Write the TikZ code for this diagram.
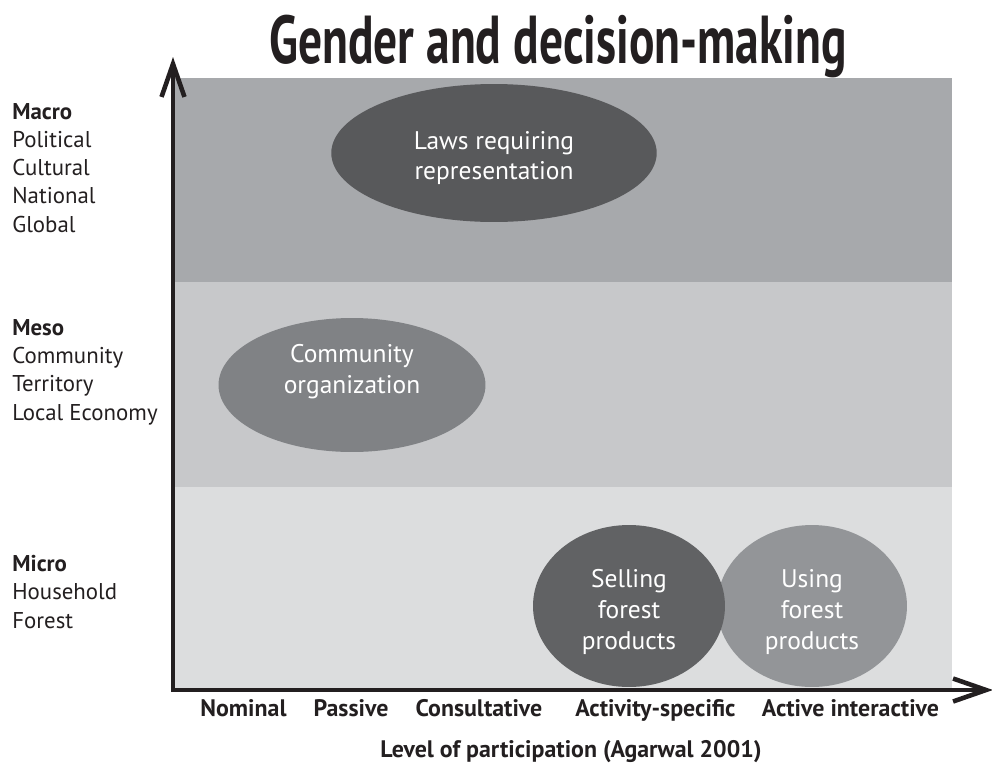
\documentclass[tikz,border=0pt]{standalone}
\usepackage{fontspec}
\setmainfont{PT Sans}
\newfontfamily\titlefont[FakeStretch=0.7]{PT Sans}
\usetikzlibrary{arrows.meta}
\usetikzlibrary{shapes.geometric}

\definecolor{ink}{HTML}{231F20}
\definecolor{macroband}{HTML}{A7A9AC}
\definecolor{mesoband}{HTML}{C7C8CA}
\definecolor{microband}{HTML}{DCDDDE}
\definecolor{lawsfill}{HTML}{58595B}
\definecolor{orgfill}{HTML}{808285}
\definecolor{sellfill}{HTML}{616264}
\definecolor{usefill}{HTML}{939598}

% invisible struts to move the text inside an ellipse up or down
\newcommand{\padtop}[1]{\rule{0pt}{#1}}
\newcommand{\padbot}[1]{\rule[-#1]{0pt}{0pt}}

\begin{document}
\begin{tikzpicture}[x=0.02cm, y=-0.02cm,
    blob/.style = {ellipse, inner sep=0pt, text=white, align=center,
                   font=\fontsize{14.5}{17.5}\selectfont},
    level/.style = {anchor=base west, align=left, inner sep=0pt, text=ink,
                    font=\fontsize{13}{16}\selectfont},
    stage/.style = {anchor=base, inner sep=0pt, text=ink,
                    font=\bfseries\fontsize{13.6}{15}\selectfont},
    axis/.style = {line width=2.6pt, draw=ink, line cap=rect,
                   -{Straight Barb[length=6.6mm, width=4.6mm]}}]
  \useasboundingbox (0,0) rectangle (992,762);

  % the three levels as bands
  \fill[macroband] (175,78) rectangle (952,282);
  \fill[mesoband]  (175,282) rectangle (952,487);
  \fill[microband] (175,487) rectangle (952,688);

  \node[font=\titlefont\bfseries\fontsize{38.6}{40}\selectfont, text=ink, anchor=base, inner sep=0pt]
    (title) at (558,63) {Gender and decision-making};

  % levels on the left (anchored on the last line)
  \node[level] (macro) at (12,232) {\textbf{Macro}\\Political\\Cultural\\National\\Global};
  \node[level] (meso)  at (12,420) {\textbf{Meso}\\Community\\Territory\\Local Economy};
  \node[level] (micro) at (12,628) {\textbf{Micro}\\Household\\Forest};

  % decisions
  \node[blob, fill=lawsfill, minimum width=6.51cm, minimum height=2.76cm]
    (laws) at (494,153) {\padtop{16pt}Laws requiring\\representation};
  \node[blob, fill=orgfill, minimum width=5.34cm, minimum height=2.68cm]
    (org) at (352,385) {Community\\organization\padbot{18pt}};
  \node[blob, fill=usefill, minimum width=3.80cm, minimum height=3.24cm]
    (using) at (812,606) {\padtop{17pt}Using\\forest\\products};
  \node[blob, fill=sellfill, minimum width=3.84cm, minimum height=3.24cm]
    (selling) at (629,606) {\padtop{17pt}Selling\\forest\\products};

  % axes
  \coordinate (origin) at (173,690);
  \coordinate (ytip) at (173,57);
  \coordinate (xtip) at (993,690);
  \draw[axis] (origin) -- (ytip);
  \draw[axis] (origin) -- (xtip);

  % participation levels
  \node[stage] (nominal) at (243.5,716) {Nominal};
  \node[stage] (passive) at (351,716) {Passive};
  \node[stage] (consult) at (479,716) {Consultative};
  \node[stage] (specific) at (655.5,716) {Activity-specific};
  \node[stage] (active) at (850.5,716) {Active interactive};
  \node[stage] (xlabel) at (571,757) {Level of participation (Agarwal 2001)};
\end{tikzpicture}
\end{document}
